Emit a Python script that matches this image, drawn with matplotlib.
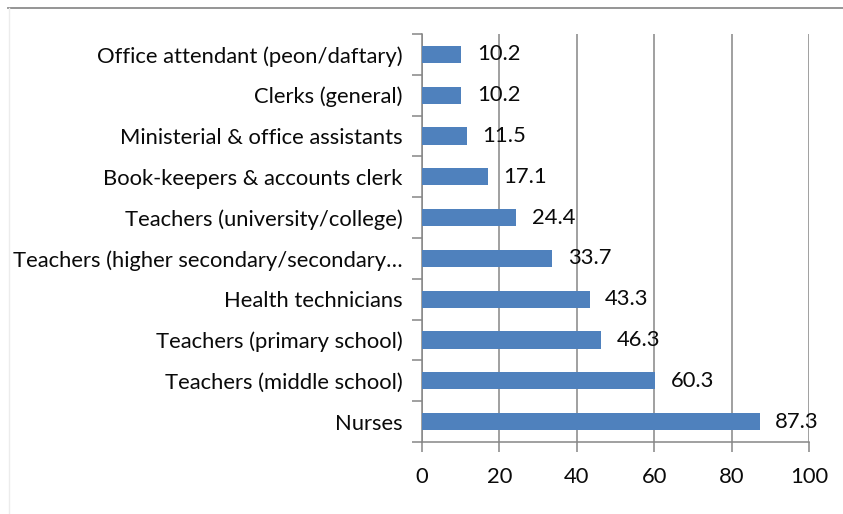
import matplotlib.pyplot as plt
from matplotlib.lines import Line2D

plt.rcParams['font.family'] = ['Lato', 'DejaVu Sans']

occupations = [
    'Nurses',
    'Teachers (middle school)',
    'Teachers (primary school)',
    'Health technicians',
    'Teachers (higher secondary/secondary…',
    'Teachers (university/college)',
    'Book-keepers & accounts clerk',
    'Ministerial & office assistants',
    'Clerks (general)',
    'Office attendant (peon/daftary)',
]
shares = [87.3, 60.3, 46.3, 43.3, 33.7, 24.4, 17.1, 11.5, 10.2, 10.2]
x_ticks = [0, 20, 40, 60, 80, 100]

bar_color = '#4F81BD'
axis_grey = '#868686'
fs = 15.8

fig = plt.figure(figsize=(8.43, 5.14), dpi=100)
ax = fig.add_axes([422 / 843, 1 - 442 / 514, 387 / 843, 408 / 514])

pos = list(range(len(occupations)))
ax.barh(pos, shares, height=0.42, color=bar_color, zorder=3)
for p, v in zip(pos, shares):
    ax.text(v + 4, p, f'{v}', va='center', ha='left', fontsize=fs,
            color='#0a0a0a', zorder=4)

ax.set_xlim(0, 100)
ax.set_ylim(-0.5, len(occupations) - 0.5)
ax.set_xticks(x_ticks)
ax.set_xticklabels([str(t) for t in x_ticks], fontsize=fs, color='#0a0a0a')
ax.set_yticks(pos)
ax.set_yticklabels(occupations, fontsize=fs, color='#0a0a0a')
ax.set_yticks([p - 0.5 for p in pos] + [len(pos) - 0.5], minor=True)

ax.xaxis.grid(True, color=axis_grey, linewidth=1.1, zorder=1)
ax.tick_params(axis='x', length=7, width=1.1, color=axis_grey, pad=11)
ax.tick_params(axis='y', which='major', length=0, pad=14)
ax.tick_params(axis='y', which='minor', length=7, width=1.1, color=axis_grey)

for side in ('top', 'right'):
    ax.spines[side].set_visible(False)
for side in ('left', 'bottom'):
    ax.spines[side].set_color(axis_grey)
    ax.spines[side].set_linewidth(1.1)

# outer frame: top rule and faint left edge
fig.add_artist(Line2D([8 / 843, 1], [1 - 8 / 514] * 2, color='#8c8c8c',
                      linewidth=1.3, transform=fig.transFigure))
fig.add_artist(Line2D([9 / 843] * 2, [0, 1 - 8 / 514], color='#ececec',
                      linewidth=1.0, transform=fig.transFigure))

fig.savefig('out.png', dpi=100)
